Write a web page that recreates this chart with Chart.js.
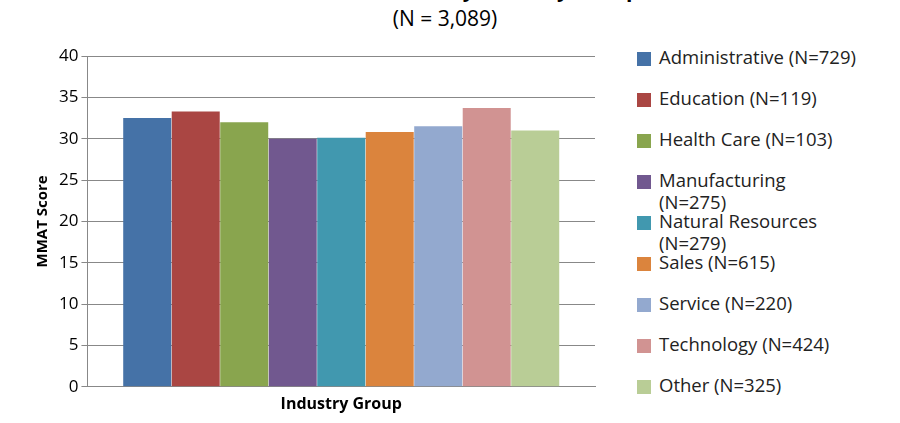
<!DOCTYPE html>
<html><head><meta charset="utf-8">
<script src="https://cdn.jsdelivr.net/npm/chart.js@4"></script>
<style>
body{margin:0;background:#fff;font-family:"Open Sans",sans-serif;}
#wrap{position:relative;width:900px;height:423px;overflow:hidden;}
#t1{position:absolute;top:-25px;left:0;width:890px;text-align:center;font-weight:bold;font-size:21px;}
#t2{position:absolute;top:4px;left:0;width:890px;text-align:center;font-size:21px;}
#cv{position:absolute;left:0;top:40px;}
#legend{position:absolute;left:637px;top:46px;font-size:18.5px;color:#222;}
.li{position:absolute;left:0;width:260px;line-height:22px;}
.li i{position:absolute;left:0;top:6px;width:14px;height:14px;}
.li span{display:block;margin-left:22px;white-space:nowrap;}
</style></head><body>
<div id="wrap">
<div id="t1">Mean MMAT Score by Industry Group</div>
<div id="t2">(N = 3,089)</div>
<canvas id="cv" width="600" height="378"></canvas>
<div id="legend"></div>
</div>
<script>
const categories = ['Administrative (N=729)','Education (N=119)','Health Care (N=103)','Manufacturing (N=275)','Natural Resources (N=279)','Sales (N=615)','Service (N=220)','Technology (N=424)','Other (N=325)'];
const scores = [32.5, 33.3, 32.0, 30.0, 30.1, 30.8, 31.5, 33.7, 31.0];
const colors = ['#4572a7','#aa4643','#89a54e','#71588f','#4198af','#db843d','#93a9cf','#d19392','#b9cd96'];
// legend entries that wrap onto two lines in the original
const wrapped = [3, 4];

const datasets = categories.map((c,i) => ({ label:c, data:[scores[i]], backgroundColor:colors[i], borderWidth:0 }));

new Chart(document.getElementById('cv'), {
  type:'bar',
  data:{ labels:[''], datasets },
  options:{
    responsive:false, animation:false,
    layout:{ padding:{ top:16, right:5, left:30 } },
    datasets:{ bar:{ categoryPercentage:0.86, barPercentage:0.99 } },
    plugins:{ legend:{ display:false }, tooltip:{ enabled:false } },
    scales:{
      x:{ grid:{ display:false }, border:{ color:'#888' }, ticks:{ display:false },
          title:{ display:true, text:'Industry Group', font:{ size:16, weight:'bold', family:'Open Sans' }, color:'#000', padding:{top:0} } },
      y:{ min:0, max:40, ticks:{ stepSize:5, font:{ size:17, family:'Open Sans' }, color:'#000' },
          grid:{ color:'#888', tickLength:6 }, border:{ color:'#888' },
          title:{ display:true, text:'MMAT Score', font:{ size:15, weight:'bold', family:'Open Sans' }, color:'#000' } }
    }
  }
});

const lg = document.getElementById('legend');
lg.innerHTML = categories.map((c,i) => {
  const txt = wrapped.includes(i) ? c.replace(' (', '<br>(') : c;
  return `<div class="li" style="top:${i*41}px"><i style="background:${colors[i]}"></i><span>${txt}</span></div>`;
}).join('');
</script>
</body></html>
